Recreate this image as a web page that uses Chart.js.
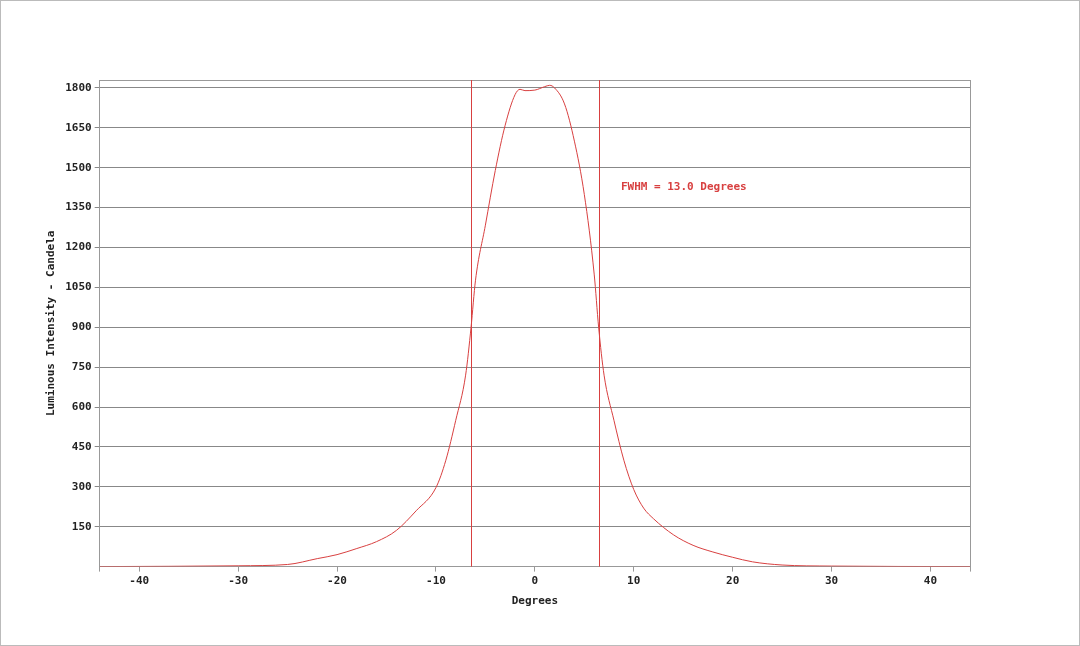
<!DOCTYPE html>
<html><head><meta charset="utf-8">
<script src="https://cdn.jsdelivr.net/npm/chart.js@4"></script>
<style>html,body{margin:0;background:#fff;}#w{position:absolute;left:0;top:0;width:1078px;height:644px;border:1px solid #bbb;}</style>
</head><body><div id="w"><canvas id="c"></canvas></div>
<script>
const degrees=[-44,-30,-25,-22,-20,-18,-16,-14,-12,-10,-9,-8,-7,-6.45,-6,-5,-4,-3,-2,-1.5,-1,0,1,1.5,2,3,4,5,6,6.45,7,8,9,10,11,12,14,16,18,20,22,25,30,44];
const intensity=[0,3,8,30,45,68,94,136,210,297,400,550,720,900,1077,1284,1490,1660,1775,1795,1790,1792,1805,1810,1800,1740,1600,1400,1100,900,720,550,400,290,220,180,120,80,55,35,18,6,2,0];
const fwhmLines=[-6.45,6.45];
const fwhmLabel="FWHM = 13.0 Degrees";
const font="'DejaVu Sans Mono', monospace";
const red='#d84040';
const ds=[{data:degrees.map((x,i)=>({x,y:intensity[i]})),borderColor:red,borderWidth:1,pointRadius:0,cubicInterpolationMode:'monotone'}];
const labelPlugin={id:'lbl',afterDatasetsDraw(ch){const c=ch.ctx,x=ch.scales.x,y=ch.scales.y,a=ch.chartArea;c.save();c.strokeStyle=red;c.lineWidth=1;
fwhmLines.forEach(v=>{const px=Math.round(x.getPixelForValue(v))+0.5;c.beginPath();c.moveTo(px,a.top);c.lineTo(px,a.bottom);c.stroke();});
c.fillStyle=red;c.font="bold 11px "+font;c.textBaseline='middle';c.fillText(fwhmLabel,x.getPixelForValue(8.7),y.getPixelForValue(1427));c.restore();}};
new Chart(document.getElementById('c'),{type:'line',data:{datasets:ds},plugins:[labelPlugin],
options:{responsive:true,maintainAspectRatio:false,animation:false,
layout:{padding:{left:40,right:101,top:71,bottom:33}},
plugins:{legend:{display:false},tooltip:{enabled:false}},
scales:{
x:{type:'linear',min:-44,max:44,border:{color:'#999'},grid:{display:true,drawOnChartArea:false,color:'#999',tickLength:5},
ticks:{stepSize:10,color:'#222',font:{family:font,size:11,weight:'bold'},callback:v=>(v%10===0&&Math.abs(v)<=40)?String(v):''},
title:{display:true,text:'Degrees',color:'#222',font:{family:font,size:11,weight:'bold'}}},
x2:{type:'linear',position:'top',min:-44,max:44,border:{color:'#999'},grid:{display:false},ticks:{display:false}},
y:{min:0,max:1830,border:{color:'#999'},grid:{color:'#888',tickLength:5},
afterBuildTicks:a=>{a.ticks=[];for(let v=150;v<=1800;v+=150)a.ticks.push({value:v});},
ticks:{color:'#222',font:{family:font,size:11,weight:'bold'},callback:v=>String(v)},
title:{display:true,text:'Luminous Intensity - Candela',color:'#222',font:{family:font,size:11,weight:'bold'}}},
y2:{position:'right',min:0,max:1830,border:{color:'#999'},grid:{display:false},ticks:{display:false}}
}}});
</script></body></html>
